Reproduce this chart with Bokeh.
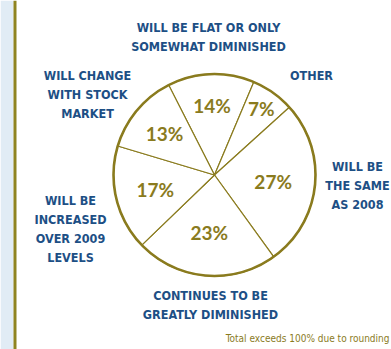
import math
from bokeh.plotting import figure
from bokeh.models import ColumnDataSource, Range1d
from bokeh.core.properties import value
from bokeh.embed import file_html
from bokeh.resources import INLINE

# ---- data ----
categories = [
    "WILL BE FLAT OR ONLY\nSOMEWHAT DIMINISHED",
    "OTHER",
    "WILL BE\nTHE SAME\nAS 2008",
    "CONTINUES TO BE\nGREATLY DIMINISHED",
    "WILL BE\nINCREASED\nOVER 2009\nLEVELS",
    "WILL CHANGE\nWITH STOCK\nMARKET",
]
percents = [14, 7, 27, 23, 17, 13]
footnote = "Total exceeds 100% due to rounding"

# ---- layout (screen-like pixel positions, y measured from top) ----
W, H = 391, 349
CX, CY, R = 214, 174.5, 101
START_DEG = -27.0                       # clockwise from 12 o'clock
label_r = [70, 81, 59, 58, 61, 65]      # radius of percentage labels
cat_x = [208, 311, 357, 210, 70, 87]
cat_y = [27, 75, 166, 295, 200, 75]
LINE_PITCH = 19

OLIVE = "#8a7b1e"
BLUE = "#1d4f85"
CAT_FONT = "DejaVu Sans Condensed"

def fy(y):
    return H - y

total = sum(percents)
starts, ends, mids = [], [], []
acc = START_DEG
for v in percents:
    a0 = acc
    a1 = acc + v / total * 360.0
    acc = a1
    starts.append(math.radians(90 - a0))
    ends.append(math.radians(90 - a1))
    mids.append(math.radians(90 - (a0 + a1) / 2))

p = figure(width=W, height=H, output_backend="svg", toolbar_location=None,
           x_range=Range1d(0, W), y_range=Range1d(0, H),
           min_border=0, outline_line_color=None)
p.axis.visible = False
p.grid.visible = False
p.background_fill_color = "white"
p.border_fill_color = "white"

# left decorative strip
p.quad(left=0, right=13, bottom=0, top=H, fill_color="#e1ecf5", line_color=None)
p.quad(left=13, right=16, bottom=0, top=H, fill_color="#8f8420", line_color=None)

src = ColumnDataSource(dict(start=starts, end=ends, pct=percents))
p.wedge(x=CX, y=fy(CY), radius=R, start_angle="end", end_angle="start",
        source=src, fill_color="white", line_color=OLIVE, line_width=1.2)
p.circle(x=[CX], y=[fy(CY)], radius=R, fill_color=None, line_color=OLIVE, line_width=2.6)

# percentage labels
lx = [CX + r * math.cos(m) for r, m in zip(label_r, mids)]
ly = [fy(CY) + r * math.sin(m) for r, m in zip(label_r, mids)]
p.text(x=lx, y=ly, text=[f"{v}%" for v in percents], text_color=OLIVE,
       text_font=value("Lato"), text_font_style="bold", text_font_size="19px",
       text_align="center", text_baseline="middle")

# category labels
tx, ty, tt = [], [], []
for c, x, y in zip(categories, cat_x, cat_y):
    for i, line in enumerate(c.split("\n")):
        tx.append(x)
        ty.append(fy(y + i * LINE_PITCH))
        tt.append(line)
p.text(x=tx, y=ty, text=tt, text_color=BLUE,
       text_font=value(CAT_FONT), text_font_style="bold", text_font_size="12.5px",
       text_align="center", text_baseline="middle")

p.text(x=[389], y=[fy(338)], text=[footnote], text_color=OLIVE,
       text_font=value(CAT_FONT), text_font_size="10px",
       text_align="right", text_baseline="middle")

open("out.html", "w").write(file_html(p, INLINE))
